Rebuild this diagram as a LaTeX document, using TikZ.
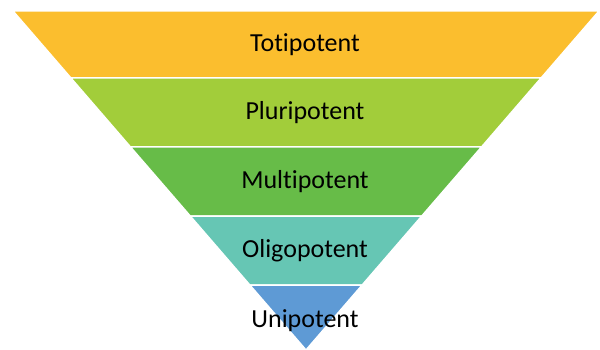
\documentclass[tikz,border=0pt]{standalone}
\usepackage{fontspec}
\setmainfont{Carlito}[Ligatures=NoCommon]

\definecolor{totiorange}{RGB}{251,190,46}
\definecolor{plurilime}{RGB}{162,205,58}
\definecolor{multigreen}{RGB}{103,188,72}
\definecolor{oligoteal}{RGB}{102,198,180}
\definecolor{uniblue}{RGB}{94,154,213}

\begin{document}
\begin{tikzpicture}[x=1pt,y=-1pt,
  band/.style={draw=white,line width=1.5pt},
  tier/.style={font=\fontsize{26}{30}\selectfont,anchor=base}]
\useasboundingbox (0,0) rectangle (600,350);
% the five bands of the inverted triangle, top to bottom
\filldraw[band,fill=totiorange] (13.0,11) -- (599.0,11) -- (541.1,78) -- (70.9,78) -- cycle;
\filldraw[band,fill=plurilime] (70.9,78) -- (541.1,78) -- (481.5,147) -- (130.5,147) -- cycle;
\filldraw[band,fill=multigreen] (130.5,147) -- (481.5,147) -- (421.8,216) -- (190.2,216) -- cycle;
\filldraw[band,fill=oligoteal] (190.2,216) -- (421.8,216) -- (362.2,285) -- (249.8,285) -- cycle;
\filldraw[band,fill=uniblue] (249.8,285) -- (362.2,285) -- (306.0,350) -- cycle;
% labels
\node[tier] (toti) at (305,52) {Totipotent};
\node[tier] (pluri) at (305,120) {Pluripotent};
\node[tier] (multi) at (305,189) {Multipotent};
\node[tier] (oligo) at (305,257) {Oligopotent};
\node[tier] (uni) at (305,327) {Unipotent};
\end{tikzpicture}
\end{document}
